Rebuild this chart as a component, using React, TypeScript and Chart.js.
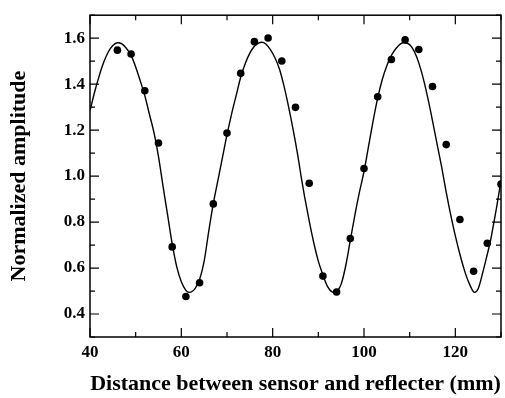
import React, { useEffect, useRef } from "react";
import { Chart, registerables } from "chart.js";

Chart.register(...registerables);

// Measured points (distance in mm, normalized amplitude)
const pointX = [46, 49, 52, 55, 58, 61, 64, 67, 70, 73, 76, 79, 82, 85, 88, 91, 94, 97, 100, 103, 106, 109, 112, 115, 118, 121, 124, 127, 130];
const pointY = [1.548, 1.531, 1.371, 1.144, 0.692, 0.476, 0.536, 0.879, 1.187, 1.447, 1.585, 1.601, 1.501, 1.299, 0.969, 0.565, 0.496, 0.728, 1.033, 1.345, 1.507, 1.593, 1.551, 1.39, 1.137, 0.811, 0.586, 0.708, 0.965];

// Fitted curve
const curveX = [40, 41, 42, 43, 44, 45, 46, 47, 48, 49, 50, 51, 52, 53, 54, 55, 56, 57, 58, 59, 60, 61, 61.7, 62.5, 63, 64, 65, 66, 67, 68, 69, 70, 71, 72, 73, 74, 75, 76, 77, 77.6, 78.5, 79.5, 80.5, 81.5, 82.5, 83.5, 84.5, 85.5, 86.3, 87, 88, 89, 90, 91, 92, 93, 93.6, 94.5, 95, 96, 97, 98, 99, 100, 101, 102, 103, 104, 105, 106, 107, 108, 108.7, 109.5, 110.5, 111.5, 112.5, 113.4, 114.5, 115.5, 116.3, 117, 118, 119, 120, 121, 122, 123, 124.2, 125, 126, 127, 127.6, 128, 129, 130];
const curveY = [1.285, 1.365, 1.435, 1.495, 1.54, 1.568, 1.58, 1.575, 1.555, 1.525, 1.475, 1.415, 1.35, 1.27, 1.19, 1.085, 0.955, 0.83, 0.705, 0.605, 0.54, 0.503, 0.494, 0.5, 0.51, 0.55, 0.63, 0.76, 0.88, 0.98, 1.08, 1.18, 1.27, 1.35, 1.43, 1.49, 1.535, 1.565, 1.58, 1.582, 1.575, 1.55, 1.515, 1.465, 1.39, 1.3, 1.2, 1.09, 0.99, 0.91, 0.805, 0.71, 0.63, 0.57, 0.52, 0.496, 0.494, 0.51, 0.53, 0.61, 0.72, 0.83, 0.93, 1.02, 1.13, 1.24, 1.34, 1.42, 1.48, 1.525, 1.555, 1.575, 1.58, 1.578, 1.56, 1.52, 1.46, 1.39, 1.29, 1.19, 1.11, 1.04, 0.93, 0.83, 0.74, 0.66, 0.59, 0.535, 0.494, 0.51, 0.58, 0.66, 0.71, 0.75, 0.86, 0.98];

const xMajorTicks = [40, 60, 80, 100, 120];
const xMinorTicks = [50, 70, 90, 110, 130];
const yMajorTicks = [0.4, 0.6, 0.8, 1.0, 1.2, 1.4, 1.6];
const yMinorTicks = [0.3, 0.5, 0.7, 0.9, 1.1, 1.3, 1.5, 1.7];

const xTitle = "Distance between sensor and reflecter (mm)";
const yTitle = "Normalized amplitude";

const FONT = "'Liberation Serif', 'Times New Roman', serif";

const framePlugin = {
  id: "frameTicks",
  afterDatasetsDraw(chart: any) {
    const { ctx, chartArea: a, scales } = chart;
    const xs = scales.x;
    const ys = scales.y;
    ctx.save();
    ctx.strokeStyle = "#000";
    ctx.lineWidth = 1.5;
    ctx.strokeRect(a.left, a.top, a.right - a.left, a.bottom - a.top);
    ctx.lineWidth = 1.2;
    const major = 9;
    const minor = 5;
    ctx.beginPath();
    const xt = (v: number, len: number) => {
      const p = xs.getPixelForValue(v);
      ctx.moveTo(p, a.bottom);
      ctx.lineTo(p, a.bottom - len);
      ctx.moveTo(p, a.top);
      ctx.lineTo(p, a.top + len);
    };
    const yt = (v: number, len: number) => {
      const p = ys.getPixelForValue(v);
      ctx.moveTo(a.left, p);
      ctx.lineTo(a.left + len, p);
      ctx.moveTo(a.right, p);
      ctx.lineTo(a.right - len, p);
    };
    xMajorTicks.forEach((v) => xt(v, major));
    xMinorTicks.forEach((v) => xt(v, minor));
    yMajorTicks.forEach((v) => yt(v, major));
    yMinorTicks.forEach((v) => yt(v, minor));
    ctx.stroke();
    ctx.restore();
  },
};

export default function App() {
  const ref = useRef<HTMLCanvasElement>(null);
  useEffect(() => {
    if (!ref.current) return;
    const chart = new Chart(ref.current, {
      type: "scatter",
      data: {
        datasets: [
          {
            type: "line",
            data: curveX.map((x, i) => ({ x, y: curveY[i] })),
            borderColor: "#000",
            borderWidth: 1.4,
            pointRadius: 0,
            fill: false,
            cubicInterpolationMode: "monotone",
            order: 2,
          } as any,
          {
            type: "scatter",
            data: pointX.map((x, i) => ({ x, y: pointY[i] })),
            backgroundColor: "#000",
            borderColor: "#000",
            pointRadius: 3.8,
            borderWidth: 0,
            order: 1,
          },
        ],
      },
      options: {
        responsive: false,
        animation: false,
        events: [],
        layout: { padding: { top: 5, right: 1, left: 0, bottom: 0 } },
        plugins: { legend: { display: false }, tooltip: { enabled: false } },
        scales: {
          x: {
            type: "linear",
            min: 40,
            max: 130,
            afterBuildTicks: (s: any) => {
              s.ticks = xMajorTicks.map((v) => ({ value: v }));
            },
            afterFit: (s: any) => {
              s.height = 61;
            },
            grid: { display: false, drawTicks: false },
            border: { display: false },
            ticks: {
              color: "#000",
              padding: 5,
              font: { family: FONT, size: 17, weight: "bold" },
              callback: (v: any) => String(v),
            },
            title: {
              display: true,
              text: xTitle,
              color: "#000",
              font: { family: FONT, size: 22, weight: "bold" },
              padding: { top: 0, bottom: 0 },
            },
          },
          y: {
            type: "linear",
            min: 0.3,
            max: 1.7,
            afterBuildTicks: (s: any) => {
              s.ticks = yMajorTicks.map((v) => ({ value: v }));
            },
            afterFit: (s: any) => {
              s.width = 90;
            },
            grid: { display: false, drawTicks: false },
            border: { display: false },
            ticks: {
              color: "#000",
              padding: 5,
              font: { family: FONT, size: 17, weight: "bold" },
              callback: (v: any) => Number(v).toFixed(1),
            },
            title: {
              display: true,
              text: yTitle,
              color: "#000",
              font: { family: FONT, size: 22, weight: "bold" },
              padding: { top: 6, bottom: 0 },
            },
          },
        },
      },
      plugins: [framePlugin],
    });
    return () => chart.destroy();
  }, []);
  return (
    <div style={{ position: "fixed", left: 0, top: 0, width: 505, height: 398, background: "#fff" }}>
      <canvas ref={ref} width={505} height={398} style={{ display: "block" }} />
    </div>
  );
}
